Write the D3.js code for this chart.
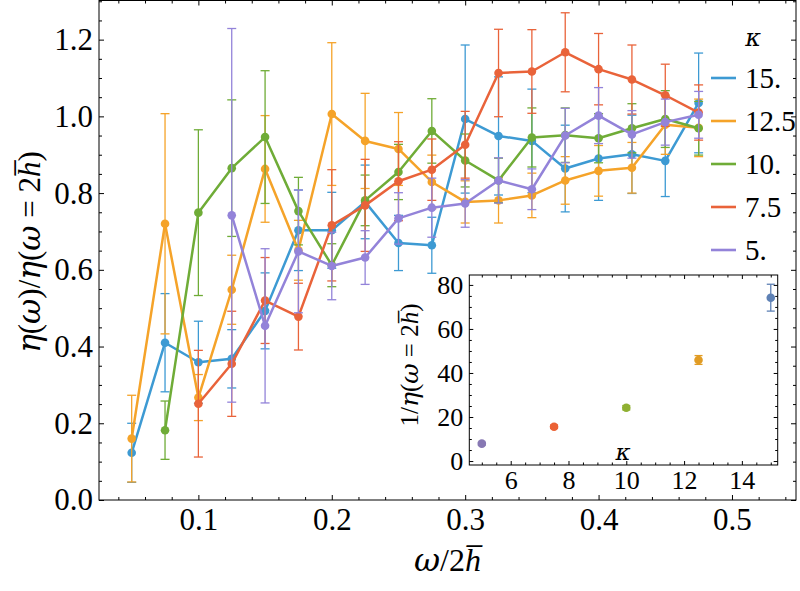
<!DOCTYPE html>
<html><head><meta charset="utf-8">
<script src="https://cdn.jsdelivr.net/npm/d3@7"></script>
<style>
body{margin:0;background:#fff;}
svg{display:block;}
text{font-family:"Liberation Serif","DejaVu Serif",serif;fill:#000;}
tspan.g{font-family:"DejaVu Serif",serif;font-style:italic;}
tspan.i{font-style:italic;}
</style></head>
<body><svg id="c" width="800" height="591"></svg>
<script>
// ---------- data ----------
const omega = [0.05,0.075,0.1,0.125,0.15,0.175,0.2,0.225,0.25,0.275,0.3,0.325,0.35,0.375,0.4,0.425,0.45,0.475];
const kappaLabels = ["15.","12.5","10.","7.5","5."];
const seriesColors = ["#3d9ad3","#f5a329","#6fac37","#e9633a","#9383d9"];
const startIndex = [0,0,1,2,3];
const val15 = [0.123,0.41,0.359,0.368,0.493,0.703,0.703,0.777,0.67,0.664,0.993,0.949,0.936,0.864,0.89,0.901,0.884,1.035];
const err15 = [0.077,0.128,0.107,0.076,0.099,0.105,0.099,0.096,0.072,0.073,0.193,0.154,0.135,0.113,0.109,0.102,0.093,0.13];
const val125 = [0.16,0.72,0.267,0.548,0.863,0.651,1.006,0.936,0.915,0.829,0.777,0.781,0.794,0.833,0.858,0.866,0.978,0.97];
const err125 = [0.113,0.287,0.06,0.09,0.139,0.078,0.186,0.124,0.095,0.07,0.055,0.059,0.058,0.062,0.066,0.066,0.077,0.075];
const val10 = [0.182,0.749,0.865,0.946,0.753,0.612,0.781,0.855,0.962,0.885,0.833,0.945,0.951,0.943,0.969,0.993,0.969];
const err10 = [0.076,0.216,0.178,0.173,0.088,0.056,0.066,0.072,0.084,0.069,0.058,0.077,0.071,0.064,0.064,0.074,0.07];
const val75 = [0.251,0.355,0.52,0.478,0.716,0.768,0.831,0.861,0.926,1.113,1.117,1.167,1.123,1.096,1.055,1.01];
const err75 = [0.139,0.137,0.112,0.087,0.145,0.12,0.103,0.08,0.087,0.114,0.109,0.103,0.093,0.09,0.081,0.072];
const val5 = [0.742,0.454,0.648,0.61,0.632,0.734,0.762,0.773,0.833,0.81,0.95,1.002,0.953,0.985,1.004];
const err5 = [0.487,0.201,0.16,0.088,0.07,0.067,0.077,0.062,0.059,0.053,0.071,0.073,0.062,0.06,0.061];
const xMajor = [0.1,0.2,0.3,0.4,0.5];
const yMajor = [0,0.2,0.4,0.6,0.8,1.0,1.2];
// inset
const insetKappa = [5,7.5,10,12.5,15];
const insetVal = [7.9,15.6,24.2,45.9,74.2];
const insetErr = [0.6,0.8,1.0,2.0,6.1];
const insetColors = ["#8778b3","#eb6235","#8fb032","#e19c24","#5e81b5"];
const insetXMajor = [6,8,10,12,14];
const insetYMajor = [0,20,40,60,80];

const vals = [val15,val125,val10,val75,val5];
const errs = [err15,err125,err10,err75,err5];

// ---------- layout ----------
const svg = d3.select("#c");
const L=99, R=796, T=0.5, B=500;
const x = d3.scaleLinear().domain([0.0255,0.548]).range([L,R]);
const y = d3.scaleLinear().domain([0,1.302]).range([B,T]);

const range = (a,b,s)=>{const r=[];for(let v=a;v<=b+1e-9;v+=s)r.push(+v.toFixed(4));return r;};
const xMinor = range(0.04,0.54,0.02).filter(v=>!xMajor.some(m=>Math.abs(m-v)<1e-6));
const yMinor = range(0.05,1.30,0.05).filter(v=>!yMajor.some(m=>Math.abs(m-v)<1e-6));

function styleAxis(g,fs){
  g.selectAll(".domain").remove();
  g.selectAll("line").attr("stroke","#000").attr("stroke-width",1);
  g.selectAll("text").attr("font-size",fs).attr("fill","#000").style("font-family",'"Liberation Serif",serif');
}
// main axes
const gx = svg.append("g").attr("transform",`translate(0,${B})`)
  .call(d3.axisBottom(x).tickValues(xMajor).tickSize(-5).tickPadding(8).tickFormat(d3.format(".1f")));
styleAxis(gx,31);
svg.append("g").attr("transform",`translate(0,${B})`).call(d3.axisBottom(x).tickValues(xMinor).tickSize(-3).tickFormat("")).call(g=>styleAxis(g,10));
svg.append("g").attr("transform",`translate(0,${T})`).call(d3.axisTop(x).tickValues(xMajor).tickSize(-5).tickFormat("")).call(g=>styleAxis(g,10));
svg.append("g").attr("transform",`translate(0,${T})`).call(d3.axisTop(x).tickValues(xMinor).tickSize(-3).tickFormat("")).call(g=>styleAxis(g,10));
const gy = svg.append("g").attr("transform",`translate(${L},0)`)
  .call(d3.axisLeft(y).tickValues(yMajor).tickSize(-5).tickPadding(6).tickFormat(d3.format(".1f")));
styleAxis(gy,31);
svg.append("g").attr("transform",`translate(${L},0)`).call(d3.axisLeft(y).tickValues(yMinor).tickSize(-3).tickFormat("")).call(g=>styleAxis(g,10));
svg.append("g").attr("transform",`translate(${R},0)`).call(d3.axisRight(y).tickValues(yMajor).tickSize(-5).tickFormat("")).call(g=>styleAxis(g,10));
svg.append("g").attr("transform",`translate(${R},0)`).call(d3.axisRight(y).tickValues(yMinor).tickSize(-3).tickFormat("")).call(g=>styleAxis(g,10));
svg.append("rect").attr("x",L).attr("y",T).attr("width",R-L).attr("height",B-T)
  .attr("fill","none").attr("stroke","#000").attr("stroke-width",1);

// series
const line = d3.line().x(d=>x(d.x)).y(d=>y(d.v));
vals.forEach((vs,i)=>{
  const data = vs.map((v,j)=>({x:omega[j+startIndex[i]],v,e:errs[i][j]}));
  const g = svg.append("g");
  const c = seriesColors[i];
  data.forEach(d=>{
    g.append("line").attr("x1",x(d.x)).attr("x2",x(d.x)).attr("y1",y(d.v-d.e)).attr("y2",y(d.v+d.e)).attr("stroke",c).attr("stroke-width",1.3);
    [d.v-d.e,d.v+d.e].forEach(t=>g.append("line").attr("x1",x(d.x)-4.5).attr("x2",x(d.x)+4.5).attr("y1",y(t)).attr("y2",y(t)).attr("stroke",c).attr("stroke-width",1.3));
  });
  g.append("path").datum(data).attr("d",line).attr("fill","none").attr("stroke",c).attr("stroke-width",2.5).attr("stroke-linejoin","round");
  g.selectAll("circle").data(data).join("circle").attr("cx",d=>x(d.x)).attr("cy",d=>y(d.v)).attr("r",4.3).attr("fill",c);
});

// axis titles
svg.append("text").attr("x",(L+R)/2).attr("y",571).attr("text-anchor","middle").attr("font-size",32)
  .html('<tspan class="g">ω</tspan>/2<tspan class="i">h\u0305</tspan>');
svg.append("text").attr("transform","translate(40,252) rotate(-90)").attr("text-anchor","middle").attr("font-size",31)
  .html('<tspan class="g">η</tspan>(<tspan class="g">ω</tspan>)/<tspan class="g">η</tspan>(<tspan class="g">ω</tspan> = 2<tspan class="i">h\u0305</tspan>)');

// legend
const legY = [78,121,164,207,250];
svg.append("text").attr("x",753).attr("y",46).attr("text-anchor","middle").attr("font-size",24).attr("font-style","italic").style("font-family",'"DejaVu Serif",serif').text("κ");
kappaLabels.forEach((lab,i)=>{
  svg.append("line").attr("x1",711).attr("x2",736).attr("y1",legY[i]).attr("y2",legY[i]).attr("stroke",seriesColors[i]).attr("stroke-width",2.6);
  svg.append("text").attr("x",745).attr("y",legY[i]+10).attr("font-size",29).text(lab);
});

// ---------- inset ----------
const iL=469.3, iR=777.7, iT=275, iB=465;
const ix = d3.scaleLinear().domain([4.567,15.24]).range([iL,iR]);
const iy = d3.scaleLinear().domain([-1.8,84.5]).range([iB,iT]);
svg.append("rect").attr("x",iL).attr("y",iT).attr("width",iR-iL).attr("height",iB-iT).attr("fill","#fff");
const ixMinor = range(5,15,0.5).filter(v=>!insetXMajor.includes(v));
const iyMinor = range(0,84,5).filter(v=>!insetYMajor.includes(v));
const ax1 = svg.append("g").attr("transform",`translate(0,${iB})`).call(d3.axisBottom(ix).tickValues(insetXMajor).tickSize(-4).tickPadding(6).tickFormat(d3.format("d")));
styleAxis(ax1,26);
svg.append("g").attr("transform",`translate(0,${iB})`).call(d3.axisBottom(ix).tickValues(ixMinor).tickSize(-2.5).tickFormat("")).call(g=>styleAxis(g,10));
svg.append("g").attr("transform",`translate(0,${iT})`).call(d3.axisTop(ix).tickValues(insetXMajor).tickSize(-4).tickFormat("")).call(g=>styleAxis(g,10));
svg.append("g").attr("transform",`translate(0,${iT})`).call(d3.axisTop(ix).tickValues(ixMinor).tickSize(-2.5).tickFormat("")).call(g=>styleAxis(g,10));
const ay1 = svg.append("g").attr("transform",`translate(${iL},0)`).call(d3.axisLeft(iy).tickValues(insetYMajor).tickSize(-4).tickPadding(6).tickFormat(d3.format("d")));
styleAxis(ay1,26);
svg.append("g").attr("transform",`translate(${iL},0)`).call(d3.axisLeft(iy).tickValues(iyMinor).tickSize(-2.5).tickFormat("")).call(g=>styleAxis(g,10));
svg.append("g").attr("transform",`translate(${iR},0)`).call(d3.axisRight(iy).tickValues(insetYMajor).tickSize(-4).tickFormat("")).call(g=>styleAxis(g,10));
svg.append("g").attr("transform",`translate(${iR},0)`).call(d3.axisRight(iy).tickValues(iyMinor).tickSize(-2.5).tickFormat("")).call(g=>styleAxis(g,10));
svg.append("rect").attr("x",iL).attr("y",iT).attr("width",iR-iL).attr("height",iB-iT).attr("fill","none").attr("stroke","#000").attr("stroke-width",1);

insetKappa.forEach((k,i)=>{
  const c=insetColors[i], v=insetVal[i], e=insetErr[i];
  svg.append("line").attr("x1",ix(k)).attr("x2",ix(k)).attr("y1",iy(v-e)).attr("y2",iy(v+e)).attr("stroke",c).attr("stroke-width",1.3);
  [v-e,v+e].forEach(t=>svg.append("line").attr("x1",ix(k)-4).attr("x2",ix(k)+4).attr("y1",iy(t)).attr("y2",iy(t)).attr("stroke",c).attr("stroke-width",1.3));
  svg.append("circle").attr("cx",ix(k)).attr("cy",iy(v)).attr("r",4.3).attr("fill",c);
});
svg.append("text").attr("x",623).attr("y",460).attr("text-anchor","middle").attr("font-size",23).attr("font-style","italic").style("font-family",'"DejaVu Serif",serif').text("κ");
svg.append("text").attr("transform","translate(418,365) rotate(-90)").attr("text-anchor","middle").attr("font-size",25)
  .html('1/<tspan class="g">η</tspan>(<tspan class="g">ω</tspan> = 2<tspan class="i">h\u0305</tspan>)');
</script></body></html>
